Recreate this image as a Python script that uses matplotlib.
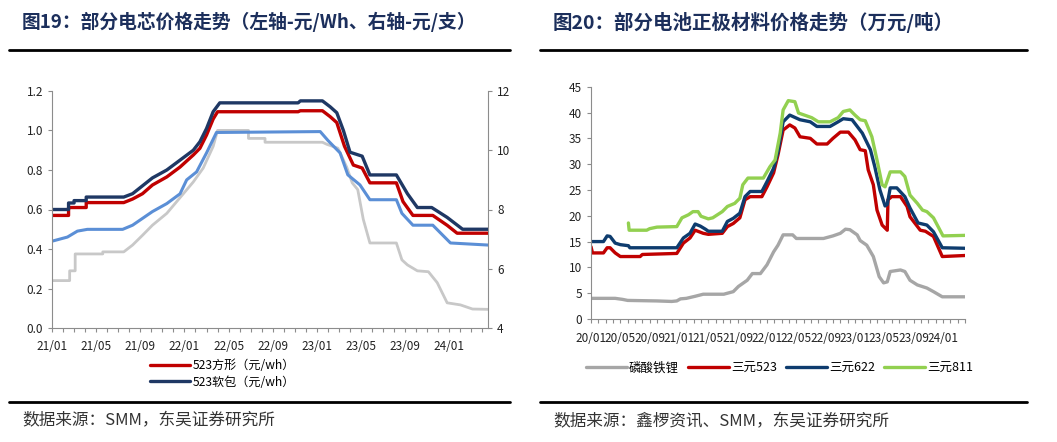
import matplotlib
matplotlib.use("Agg")
import matplotlib.pyplot as plt
from matplotlib.lines import Line2D
from matplotlib.ticker import MultipleLocator

plt.rcParams['font.family'] = ['Noto Sans CJK SC', 'DejaVu Sans']
plt.rcParams['lines.solid_joinstyle'] = 'round'
plt.rcParams['lines.solid_capstyle'] = 'round'

# ---------------- 图19 数据（月份序号，0 = 21/01）----------------
left_ticks = ['21/01', '21/05', '21/09', '22/01', '22/05', '22/09', '23/01', '23/05', '23/09', '24/01']

sq_m = [0, 1.5, 1.5, 3.1, 3.1, 6.5, 7.3, 8.2, 9.1, 10.4, 11.6, 12.8, 13.4, 14.0, 14.6, 15.0,
        22.3, 22.5, 24.5, 25.2, 25.8, 26.5, 27.3, 28.1, 28.8, 31.2, 31.8, 32.7, 34.5, 35.8, 36.7, 39.5]
sq_v = [0.57, 0.57, 0.61, 0.61, 0.635, 0.635, 0.653, 0.68, 0.724, 0.765, 0.815, 0.876, 0.91, 0.977, 1.058, 1.095,
        1.095, 1.10, 1.10, 1.07, 1.04, 0.92, 0.825, 0.81, 0.735, 0.735, 0.64, 0.57, 0.57, 0.52, 0.48, 0.48]

pk_m = [0, 1.5, 1.5, 2.0, 2.0, 3.1, 3.1, 6.5, 7.3, 8.2, 9.1, 10.4, 11.6, 12.8, 13.4, 14.0, 14.6, 15.2,
        22.3, 22.5, 24.5, 25.2, 25.8, 26.4, 27.0, 28.1, 28.8, 31.2, 32.2, 33.1, 34.4, 35.8, 37.2, 39.5]
pk_v = [0.60, 0.60, 0.633, 0.633, 0.645, 0.645, 0.663, 0.663, 0.68, 0.72, 0.76, 0.80, 0.85, 0.90, 0.943, 1.01, 1.095, 1.14,
        1.14, 1.15, 1.15, 1.12, 1.09, 1.0, 0.89, 0.87, 0.775, 0.775, 0.68, 0.61, 0.61, 0.56, 0.50, 0.50]

# 右轴（元/支）
lb_m = [0, 1.4, 2.3, 3.2, 6.4, 7.3, 8.2, 9.1, 10.4, 11.6, 12.2, 13.1, 14.0, 14.9,
        24.3, 25.0, 26.1, 26.8, 27.9, 28.8, 31.2, 31.7, 32.7, 34.5, 36.1, 39.5]
lb_v = [6.93, 7.07, 7.27, 7.33, 7.33, 7.47, 7.70, 7.93, 8.20, 8.53, 9.0, 9.27, 9.91, 10.6,
        10.63, 10.33, 9.91, 9.17, 8.83, 8.33, 8.33, 7.87, 7.47, 7.47, 6.87, 6.80]

gy_m = [0, 1.6, 1.6, 2.1, 2.1, 4.6, 4.6, 6.5, 7.3, 8.2, 9.1, 10.4, 11.6, 12.8, 13.7, 14.6, 15.0,
        17.8, 17.8, 19.3, 19.3, 24.5, 24.9, 25.9, 26.7, 27.2, 27.7, 28.2, 28.8, 31.2, 31.7, 32.2,
        33.1, 34.1, 34.9, 35.8, 37.0, 38.1, 39.5]
gy_v = [5.6, 5.6, 5.93, 5.93, 6.5, 6.5, 6.57, 6.57, 6.8, 7.13, 7.47, 7.87, 8.4, 8.93, 9.4, 10.13, 10.67,
        10.67, 10.4, 10.4, 10.27, 10.27, 10.2, 10.07, 9.43, 8.9, 8.67, 7.67, 6.87, 6.87, 6.3, 6.13,
        5.93, 5.9, 5.53, 4.85, 4.78, 4.64, 4.63]

# ---------------- 图20 数据（月份序号，0 = 20/01）----------------
right_ticks = ['20/01', '20/05', '20/09', '21/01', '21/05', '21/09', '22/01', '22/05', '22/09',
               '23/01', '23/05', '23/09', '24/01']

lfp_m = [0, 3.3, 4.3, 5.0, 9.0, 11.0, 11.7, 12.2, 13.0, 14.2, 15.3, 18.1, 19.4, 20.1, 21.3, 22.0, 23.1,
         24.0, 24.9, 25.5, 26.2, 27.5, 28.0, 31.7, 33.0, 34.0, 34.7, 35.3, 36.3, 36.7, 37.6, 38.5,
         39.3, 39.9, 40.4, 40.8, 42.2, 42.8, 43.5, 44.5, 45.8, 46.7, 47.9, 51.0]
lfp_v = [4.0, 4.0, 3.8, 3.6, 3.5, 3.4, 3.5, 3.9, 4.0, 4.4, 4.8, 4.8, 5.3, 6.3, 7.5, 8.8, 8.8,
         10.5, 13.0, 14.3, 16.3, 16.3, 15.6, 15.6, 16.1, 16.6, 17.4, 17.3, 16.3, 15.2, 14.3, 12.1,
         8.2, 7.0, 7.2, 9.2, 9.5, 9.2, 7.5, 6.6, 6.0, 5.3, 4.3, 4.3]

n523_m = [0, 0.2, 1.7, 2.2, 2.6, 3.3, 4.0, 6.7, 7.0, 11.7, 12.6, 13.5, 14.2, 15.3, 16.0, 17.9, 18.6,
          19.4, 20.3, 21.0, 21.7, 23.3, 24.0, 24.9, 25.5, 26.2, 27.1, 27.8, 28.5, 29.9, 30.8, 32.2,
          33.0, 34.0, 35.1, 36.0, 36.7, 37.4, 37.8, 38.5, 39.0, 39.7, 40.4, 40.5, 41.0, 42.2, 43.1,
          43.5, 44.9, 45.6, 46.7, 47.9, 51.0]
n523_v = [14.0, 12.8, 12.8, 13.8, 13.8, 12.8, 12.1, 12.1, 12.5, 12.7, 14.7, 15.7, 17.2, 16.6, 16.4, 16.6, 17.9,
          18.5, 19.6, 23.1, 23.7, 23.7, 25.6, 28.3, 31.8, 36.6, 37.6, 37.0, 35.3, 35.0, 33.9, 33.9,
          35.0, 36.2, 36.2, 34.7, 32.8, 32.6, 28.9, 26.0, 21.1, 18.2, 17.2, 23.1, 23.7, 23.7, 21.8,
          19.8, 17.2, 17.0, 16.0, 12.1, 12.3]

n622_m = [0, 1.7, 2.2, 2.6, 3.3, 4.0, 5.1, 5.3, 11.7, 12.6, 13.5, 14.2, 14.9, 15.6, 16.0, 17.9, 18.6,
          19.4, 20.3, 21.0, 21.7, 23.3, 24.0, 24.9, 25.5, 26.2, 27.1, 28.5, 29.9, 30.8, 32.6, 33.7,
          34.4, 35.6, 36.3, 37.0, 38.1, 38.7, 39.4, 40.1, 40.4, 40.8, 41.7, 42.8, 43.5, 44.6, 45.8,
          46.7, 47.9, 51.0]
n622_v = [15.0, 15.0, 16.1, 16.0, 14.7, 14.4, 14.2, 13.8, 13.8, 15.7, 16.6, 18.4, 18.0, 17.4, 17.0, 17.0, 18.9,
          19.5, 20.5, 23.7, 24.7, 24.7, 26.6, 29.2, 32.4, 38.2, 39.5, 38.6, 38.2, 37.3, 37.3, 38.2,
          38.8, 38.6, 37.3, 36.0, 32.8, 29.5, 25.0, 21.9, 22.2, 25.4, 25.4, 23.7, 21.5, 18.6, 18.2,
          16.9, 13.8, 13.7]

n811_m = [5.1, 5.2, 7.6, 8.0, 9.0, 11.7, 12.4, 13.3, 13.9, 14.6, 15.0, 16.0, 16.6, 17.9, 18.6, 19.6,
          20.3, 20.7, 21.4, 23.5, 24.4, 25.1, 25.8, 26.2, 26.9, 27.8, 28.3, 28.9, 30.1, 31.0, 32.6,
          33.7, 34.4, 35.3, 36.0, 36.7, 37.4, 38.3, 39.0, 39.7, 40.1, 40.8, 42.2, 42.8, 43.5, 44.5,
          45.2, 45.8, 46.7, 48.0, 51.0]
n811_v = [18.6, 17.2, 17.2, 17.5, 17.8, 17.9, 19.6, 20.2, 20.8, 20.8, 19.9, 19.4, 19.6, 20.8, 21.8, 22.4,
          23.4, 26.0, 27.3, 27.3, 29.5, 30.8, 36.0, 40.5, 42.3, 42.1, 39.9, 39.6, 39.0, 38.2, 38.2,
          39.0, 40.2, 40.5, 39.5, 38.6, 38.4, 35.3, 30.8, 26.0, 25.6, 28.5, 28.5, 27.6, 24.0, 22.4,
          21.1, 20.8, 19.6, 16.1, 16.2]

W, H = 1057, 442
fig = plt.figure(figsize=(W / 100, H / 100), dpi=100)

spine_c = '#8c8c8c'
txt_c = '#222222'
title_c = '#1c2f5c'


def style_axis(ax):
    for s in ['top', 'right']:
        ax.spines[s].set_visible(False)
    for s in ['left', 'bottom']:
        ax.spines[s].set_color(spine_c)
    ax.tick_params(axis='both', colors=spine_c, labelcolor=txt_c, labelsize=8.5, length=3, width=0.8)
    ax.tick_params(axis='x', which='minor', colors=spine_c, length=3, width=0.8)


# ---------------- 左图 ----------------
ax1 = fig.add_axes([52 / W, 1 - 328 / H, 436 / W, 237 / H])
ax2 = ax1.twinx()
ax2.plot(gy_m, gy_v, color='#c8c8c8', lw=2.0)
ax2.plot(lb_m, lb_v, color='#5b8fd6', lw=2.2)
ln_sq, = ax1.plot(sq_m, sq_v, color='#c00000', lw=2.4, label='523方形（元/wh）')
ln_pk, = ax1.plot(pk_m, pk_v, color='#1f3864', lw=2.4, label='523软包（元/wh）')
ax1.set_zorder(ax2.get_zorder() + 1)
ax1.patch.set_visible(False)

style_axis(ax1)
ax1.set_xlim(0, 39.5)
ax1.set_ylim(0, 1.2)
ax1.yaxis.set_major_locator(MultipleLocator(0.2))
ax1.yaxis.set_major_formatter(lambda v, p: f'{v:.1f}')
ax1.set_xticks(range(0, 37, 4))
ax1.set_xticklabels(left_ticks)
ax1.xaxis.set_minor_locator(MultipleLocator(1))
ax1.tick_params(axis='x', pad=6)

for s in ['top', 'left', 'bottom']:
    ax2.spines[s].set_visible(False)
ax2.spines['right'].set_color(spine_c)
ax2.set_ylim(4, 12)
ax2.set_yticks([4, 6, 8, 10, 12])
ax2.tick_params(axis='y', colors=spine_c, labelcolor=txt_c, labelsize=8.5, length=3, width=0.8)

fig.legend(handles=[ln_sq, ln_pk], loc='upper left', bbox_to_anchor=(150 / W, 1 - 359 / H),
           frameon=False, fontsize=8.7, handlelength=3.3, handletextpad=0.2, labelspacing=0.3,
           borderpad=0, borderaxespad=0)

# ---------------- 右图 ----------------
ax3 = fig.add_axes([591 / W, 1 - 319 / H, 374 / W, 232.3 / H])
l1, = ax3.plot(lfp_m, lfp_v, color='#a6a6a6', lw=2.4, label='磷酸铁锂')
l2, = ax3.plot(n523_m, n523_v, color='#c00000', lw=2.4, label='三元523')
l3, = ax3.plot(n622_m, n622_v, color='#0e3c6e', lw=2.4, label='三元622')
l4, = ax3.plot(n811_m, n811_v, color='#92d050', lw=2.4, label='三元811')
style_axis(ax3)
ax3.set_xlim(0, 51.0)
ax3.set_ylim(0, 45)
ax3.yaxis.set_major_locator(MultipleLocator(5))
ax3.set_xticks(range(0, 49, 4))
ax3.set_xticklabels(right_ticks)
ax3.xaxis.set_minor_locator(MultipleLocator(1))
ax3.tick_params(axis='x', pad=6)

fig.legend(handles=[l1, l2, l3, l4], loc='center left', bbox_to_anchor=(586 / W, 1 - 368 / H),
           ncol=4, frameon=False, fontsize=9, handlelength=3.3, handletextpad=0.15,
           columnspacing=0.7, borderpad=0, borderaxespad=0)

# ---------------- 标题与来源 ----------------
fig.text(22 / W, 1 - 22 / H, '图19：部分电芯价格走势（左轴-元/Wh、右轴-元/支）', fontsize=13.5,
         fontweight='bold', color=title_c, va='center', ha='left')
fig.text(553 / W, 1 - 22 / H, '图20：部分电池正极材料价格走势（万元/吨）', fontsize=14,
         fontweight='bold', color=title_c, va='center', ha='left')
for x0, x1 in [(9, 510), (540, 1027)]:
    fig.add_artist(Line2D([x0 / W, x1 / W], [1 - 50 / H] * 2, color='black', lw=2))
    fig.add_artist(Line2D([x0 / W, x1 / W], [1 - 402 / H] * 2, color='black', lw=2))
fig.text(22 / W, 1 - 421 / H, '数据来源：SMM，东吴证券研究所', fontsize=12, color='#333333',
         va='center', ha='left')
fig.text(553 / W, 1 - 422 / H, '数据来源：鑫椤资讯、SMM，东吴证券研究所', fontsize=12, color='#333333',
         va='center', ha='left')

fig.savefig('out.png', dpi=100)
